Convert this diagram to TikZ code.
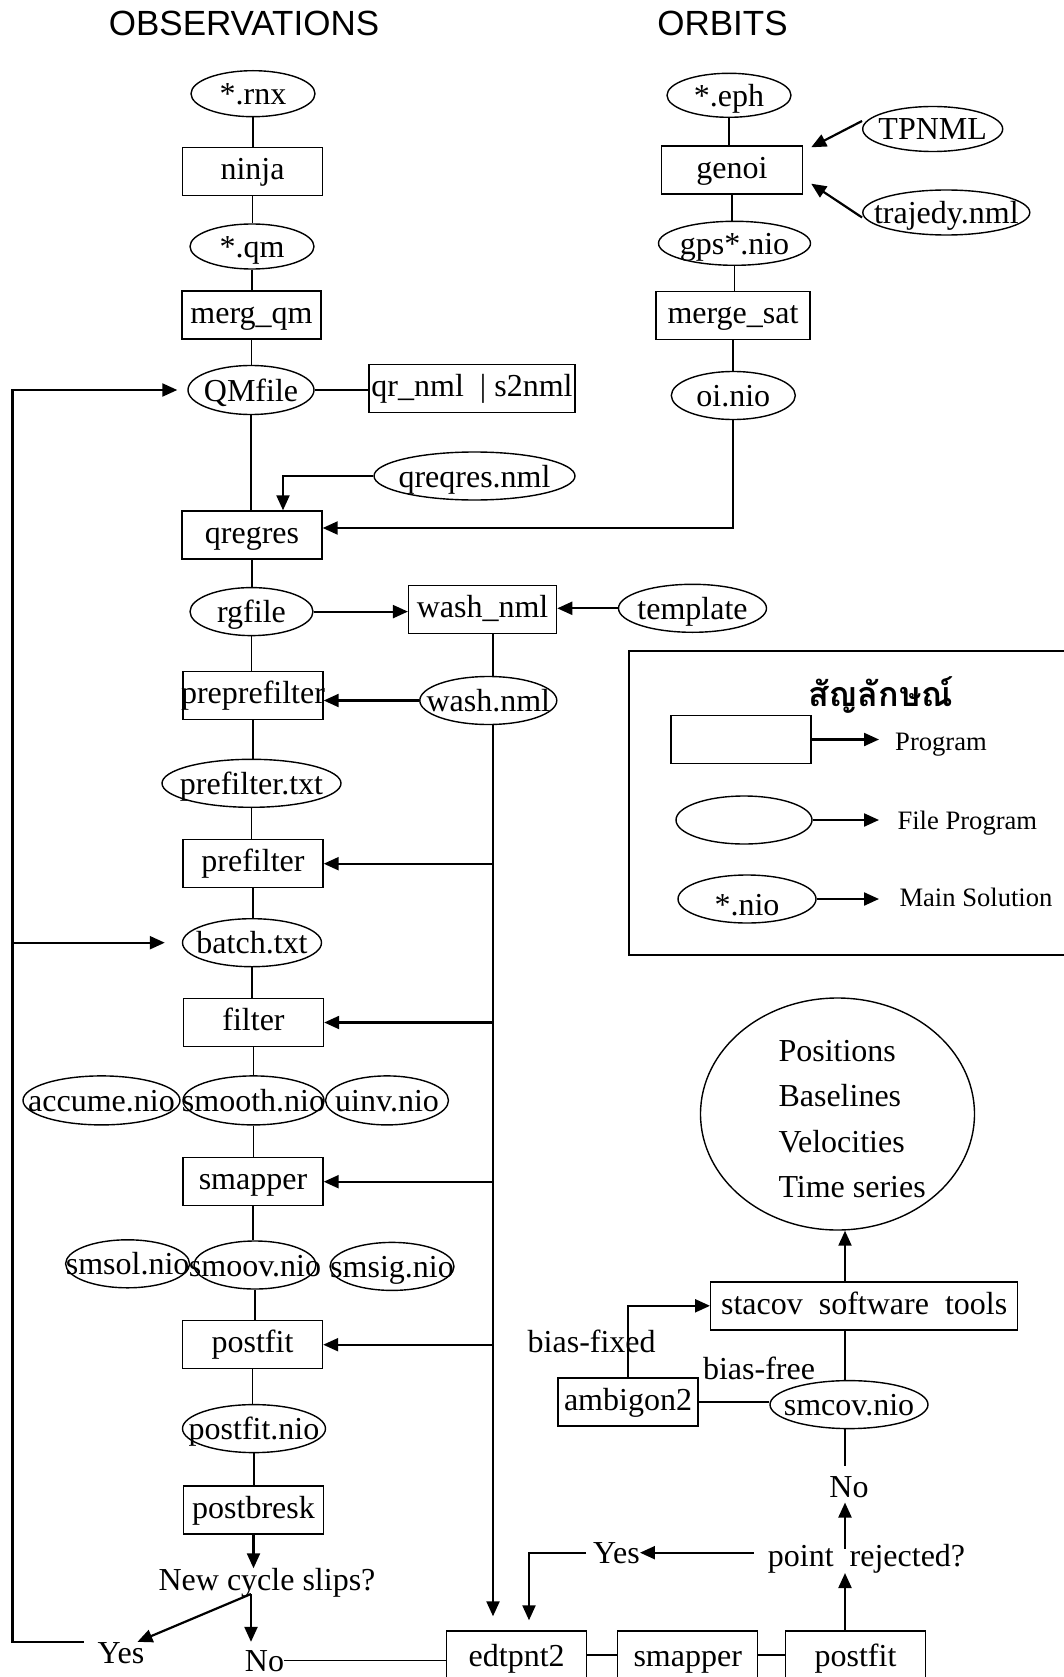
\documentclass[tikz,border=0pt]{standalone}
\usepackage{fontspec}
\setmainfont{Liberation Serif}
\newfontfamily\headfont{Liberation Sans}
\newfontfamily\thaifont[Script=Thai]{Loma}
\usetikzlibrary{shapes.geometric, arrows.meta}
\tikzset{
	prog/.style ={rectangle, draw=black, line width=1.4pt, minimum width=140pt, minimum height=48pt, inner xsep=-100pt, inner ysep=-40pt, text height=26pt, text depth=9.5pt},
	file/.style ={ellipse, draw=black, line width=1.4pt, minimum width=124pt, minimum height=48pt, inner xsep=-100pt, inner ysep=-40pt, text height=29pt, text depth=7pt},
	lbl/.style  ={inner sep=0pt, anchor=base},
	head/.style ={inner sep=0pt, anchor=base, font=\headfont\fontsize{35}{42}\selectfont},
	conn/.style ={line width=1.4pt},
	sig/.style  ={-{Triangle[length=15pt,width=13pt]}, line width=2.2pt},
	% legend
	keytext/.style={inner sep=0pt, anchor=base west, font=\fontsize{26.6}{32}\selectfont},
}

\begin{document}
\begin{tikzpicture}[x=1pt, y=-1pt, font=\fontsize{32}{38}\selectfont]
\path[use as bounding box, fill=white] (0,0) rectangle (1064,1677);

\node[head] (obs) at (244,35.5) {OBSERVATIONS};
\node[head] (orb) at (722.5,35.5) {ORBITS};

% observations
\node[file, minimum width=124pt, minimum height=46pt] (rnx) at (253,93.7) {*.rnx};
\node[prog] (ninja) at (252.5,171.7) {ninja};
\node[file, minimum height=45pt] (qm) at (252,246.5) {*.qm};
\node[prog, minimum width=139pt] (mergqm) at (251.5,315) {merg\_qm};
\node[file, minimum width=126pt, minimum height=49pt] (qmfile) at (251,390) {QMfile};
\node[prog, minimum width=206pt] (qrnml) at (472,388.4) {qr\_nml\ \ | s2nml};
\node[file, minimum width=201pt] (qreqres) at (474.5,476) {qreqres.nml};
\node[prog] (qregres) at (252,535) {qregres};
\node[file, minimum width=123pt] (rgfile) at (251.5,611.6) {rgfile};
\node[prog, minimum width=148pt] (washnml) at (482.6,609.6) {wash\_nml};
\node[file, minimum width=148pt] (template) at (692.5,608.3) {template};
\node[prog] (preprefilter) at (253,695.4) {preprefilter};
\node[file, minimum width=137pt] (washnio) at (488.3,700.5) {wash.nml};
\node[file, minimum width=179pt] (prefiltxt) at (251.5,783.3) {prefilter.txt};
\node[prog] (prefilter) at (253,863.7) {prefilter};
\node[file, minimum width=139pt] (batch) at (252,942.7) {batch.txt};
\node[prog] (filter) at (253.5,1022.5) {filter};
\node[file, minimum width=157pt, minimum height=49pt] (accume) at (101.5,1100.4) {accume.nio};
\node[file, minimum width=141pt, minimum height=49pt] (smooth) at (253.5,1100.4) {smooth.nio};
\node[file, minimum width=123pt, minimum height=49pt] (uinv) at (387,1100.4) {uinv.nio};
\node[prog] (smapper) at (253,1181.7) {smapper};
\node[file] (smsol) at (127.6,1263.8) {smsol.nio};
\node[file, minimum width=122pt] (smoov) at (255,1265) {smoov.nio};
\node[file] (smsig) at (392,1266.4) {smsig.nio};
\node[prog] (postfit) at (252.5,1344.7) {postfit};
\node[file, minimum width=143pt] (postfitnio) at (254,1428.6) {postfit.nio};
\node[prog] (postbresk) at (253.5,1510) {postbresk};
\node[lbl] (ncs) at (267,1590.7) {New cycle slips?};
\node[lbl] (yes1) at (121,1663) {Yes};
\node[lbl] (no1) at (264.5,1671) {No};

% orbits
\node[file, minimum height=44pt] (eph) at (729,95.3) {*.eph};
\node[prog, minimum width=141pt] (genoi) at (732,170) {genoi};
\node[file, minimum width=140pt, minimum height=45pt] (tpnml) at (932.7,129) {TPNML};
\node[file, minimum width=167pt, minimum height=45pt] (trajedy) at (946.3,212.5) {trajedy.nml};
\node[file, minimum width=152pt, minimum height=44pt] (gps) at (734.5,243.3) {gps*.nio};
\node[prog, minimum width=154pt] (mergesat) at (733,315.3) {merge\_sat};
\node[file] (oinio) at (733.3,395.5) {oi.nio};

% solution side
\node[file, minimum width=274pt, minimum height=232pt] (res) at (837.5,1114) {};
\node[anchor=west, align=left, inner sep=0pt, font=\fontsize{32}{45.5}\selectfont] (reslist) at (778.3,1119) {Positions\\Baselines\\Velocities\\Time series};
\node[prog, minimum width=307pt] (stacov) at (864.2,1305.8) {stacov\ \ software\ \ tools};
\node[prog] (amb) at (628,1402) {ambigon2};
\node[file, minimum width=158pt] (smcov) at (849,1404.6) {smcov.nio};
\node[lbl] (biasfixed) at (591.7,1352) {bias-fixed};
\node[lbl] (biasfree) at (759,1379.7) {bias-free};
\node[lbl] (no2) at (849,1497) {No};
\node[lbl] (pointrej) at (866.5,1566) {point\ \ rejected?};
\node[lbl] (yes2) at (616.5,1563) {Yes};
\node[prog, text height=30pt, text depth=7pt] (edt) at (516.7,1655) {edtpnt2};
\node[prog, text height=30pt, text depth=7pt] (smap2) at (687.7,1655) {smapper};
\node[prog, text height=30pt, text depth=7pt] (postfit2) at (855.5,1655) {postfit};

% legend
\draw[line width=2pt] (629.3,651) rectangle (1075,955);
\node[inner sep=0pt, font=\thaifont\bfseries\fontsize{34}{40}\selectfont] (keyhead) at (880.5,695) {สัญลักษณ์};
\node[prog] (keyprog) at (741,739.5) {};
\node[file, minimum width=136pt] (keyfile) at (744,820) {};
\node[file, minimum width=138pt, text height=34pt, text depth=2pt] (keynio) at (747,899) {*.nio};
\node[keytext] (keyprogtxt) at (895,750) {Program};
\node[keytext] (keyfiletxt) at (897.3,829.3) {File Program};
\node[keytext] (keyniotxt) at (899.3,906.7) {Main Solution};

\coordinate (bus) at (493,0);
\coordinate (loop) at (12.5,0);
\coordinate (spine) at (845,0);
\coordinate (keytip) at (879,0);
\coordinate (fork) at (251,1594);

\foreach \a/\b in {rnx/ninja, ninja/qm, qm/mergqm, mergqm/qmfile, qmfile/qregres, qregres/rgfile, rgfile/preprefilter, preprefilter/prefiltxt, prefiltxt/prefilter, prefilter/batch, batch/filter, filter/smooth, smooth/smapper, smapper/smoov, smoov/postfit, postfit/postfitnio, postfitnio/postbresk, eph/genoi, genoi/gps, gps/mergesat, mergesat/oinio}
	\draw[conn] (\a.south) -- (\a.south |- \b.north);
\draw[conn] (qmfile.east) -- (qmfile.east -| qrnml.west);
\draw[sig] (qreqres.west) -| ([xshift=31pt]qregres.north);
\draw[sig] (oinio.south) |- ([yshift=7pt]qregres.east);
\draw[sig] ([yshift=8pt]tpnml.west) -- ([xshift=8pt,yshift=-2pt]genoi.north east);
\draw[sig] ([yshift=-5pt]trajedy.west) -- ([xshift=8pt,yshift=11pt]genoi.south east);
\draw[sig] (rgfile.east) -- (rgfile.east -| washnml.west);
\draw[sig] (template.west) -- (template.west -| washnml.east);
\draw[conn] (bus |- washnml.south) -- (bus |- washnio.north);
\draw[sig] (washnio.west) -- (washnio.west -| preprefilter.east);
\draw[sig, shorten >=14pt] (bus |- washnio.south) -- (bus |- edt.north);
\foreach \n in {prefilter, filter, smapper, postfit}
	\draw[sig] (bus |- \n.east) -- (\n.east);

% cycle slip loop
\draw[sig] (postbresk.south) -- (postbresk.south |- ncs.north);
\draw[sig] (fork) -- ([xshift=-7pt]yes1.north east);
\draw[sig, shorten >=8pt] (fork) -- (fork |- no1.north);
\draw[sig, shorten <=14pt, shorten >=10pt] ([yshift=10.7pt]yes1.west) -| (loop |- qmfile.west) -- (qmfile.west);
\draw[sig, shorten >=17pt] (loop |- batch.west) -- (batch.west);
\draw[conn] (no1.east) -- (no1.east -| edt.west);

% edit / solution
\draw[conn] (edt) -- (smap2);
\draw[conn] (smap2) -- (postfit2);
\draw[sig] (spine |- postfit2.north) -- (spine |- pointrej.south);
\draw[sig, shorten >=5pt] ([yshift=9.5pt]spine |- pointrej.center) -- (spine |- no2.south);
\draw[sig, shorten <=14pt] (pointrej.west |- yes2.east) -- (yes2.east);
\draw[sig, shorten <=7pt, shorten >=10pt] (yes2.west) -| ([xshift=12.3pt]edt.north);
\draw[conn, shorten >=10pt] (spine |- smcov.south) -- (spine |- no2.north);
\draw[conn] (spine |- stacov.south) -- (spine |- smcov.north);
\draw[sig] (spine |- stacov.north) -- (spine |- res.south);
\draw[conn] (amb.east) -- (amb.east -| smcov.west);
\draw[sig] (amb.north) |- (stacov.west);

\foreach \n in {keyprog, keyfile, keynio}
	\draw[sig] (\n.east) -- (\n.east -| keytip);
\end{tikzpicture}
\end{document}
